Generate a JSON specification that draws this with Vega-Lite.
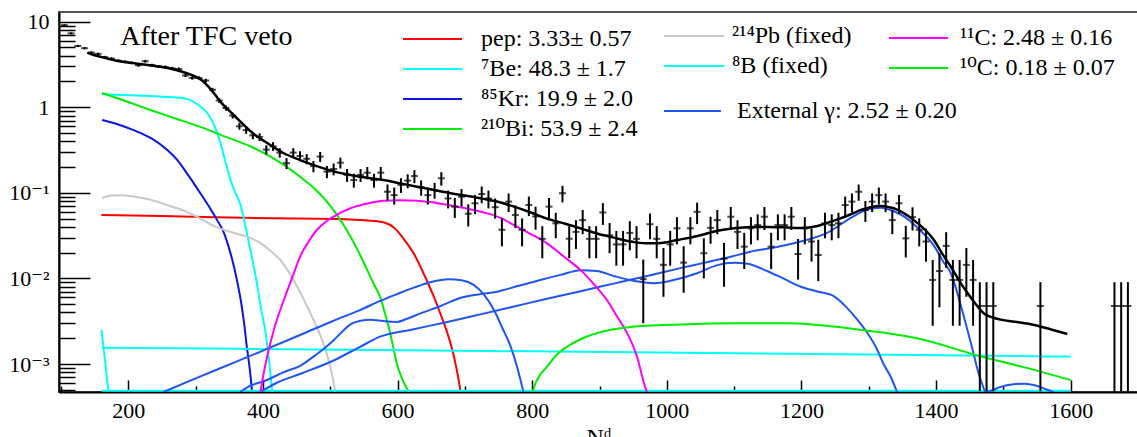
{
"$schema": "https://vega.github.io/schema/vega-lite/v6.json",
"width": 1079, "height": 380,
"autosize": "none",
"padding": {"left": 59, "top": 12, "right": 0, "bottom": 45},
"background": "white",
"config": {"view": {"stroke": "#555", "strokeWidth": 2}},
"resolve": {"scale": {"color": "independent"}},
"datasets": {
"pts": [
{"x":105,"y":9.1,"e":0.208},{"x":115,"y":7.3,"e":0.186},{"x":125,"y":5.2,"e":0.157},{"x":135,"y":4.9,"e":0.153},{"x":145,"y":4.35,"e":0.144},{"x":155,"y":4.2,"e":0.141},{"x":165,"y":3.85,"e":0.135},{"x":175,"y":3.7,"e":0.133},{"x":185,"y":3.5,"e":0.129},{"x":195,"y":3.4,"e":0.127},{"x":205,"y":3.3,"e":0.125},{"x":215,"y":3.1,"e":0.121},{"x":225,"y":3.45,"e":0.128},{"x":235,"y":3.1,"e":0.121},{"x":245,"y":3.0,"e":0.12},{"x":255,"y":2.95,"e":0.119},{"x":265,"y":2.85,"e":0.116},{"x":275,"y":2.8,"e":0.115},{"x":285,"y":2.35,"e":0.106},{"x":295,"y":2.2,"e":0.102},{"x":305,"y":2.2,"e":0.102},{"x":315,"y":2.05,"e":0.099},{"x":325,"y":1.6,"e":0.087},{"x":335,"y":1.2,"e":0.076},{"x":345,"y":0.98,"e":0.068},{"x":355,"y":0.8,"e":0.062},{"x":365,"y":0.6,"e":0.053},{"x":375,"y":0.54,"e":0.051},{"x":385,"y":0.47,"e":0.047},{"x":395,"y":0.45,"e":0.046},
{"x":405,"y":0.32,"e":0.039},{"x":415,"y":0.35,"e":0.041},{"x":425,"y":0.295,"e":0.037},{"x":435,"y":0.222,"e":0.0325},{"x":445,"y":0.295,"e":0.037},{"x":455,"y":0.27,"e":0.036},{"x":465,"y":0.25,"e":0.0345},{"x":475,"y":0.205,"e":0.031},{"x":485,"y":0.265,"e":0.0355},{"x":495,"y":0.177,"e":0.029},{"x":505,"y":0.19,"e":0.03},{"x":515,"y":0.225,"e":0.0327},{"x":525,"y":0.162,"e":0.0278},{"x":535,"y":0.141,"e":0.0259},{"x":545,"y":0.162,"e":0.0278},{"x":555,"y":0.172,"e":0.0286},{"x":565,"y":0.141,"e":0.0259},{"x":575,"y":0.172,"e":0.0286},{"x":585,"y":0.103,"e":0.0221},{"x":595,"y":0.094,"e":0.0212},{"x":605,"y":0.124,"e":0.0243},{"x":615,"y":0.139,"e":0.0257},{"x":625,"y":0.157,"e":0.0273},{"x":635,"y":0.116,"e":0.0235},{"x":645,"y":0.094,"e":0.0212},{"x":655,"y":0.108,"e":0.0227},{"x":665,"y":0.148,"e":0.0265},{"x":675,"y":0.086,"e":0.0202},{"x":685,"y":0.069,"e":0.0181},{"x":695,"y":0.09,"e":0.0207},{"x":705,"y":0.057,"e":0.0165},{"x":715,"y":0.0755,"e":0.019},{"x":725,"y":0.097,"e":0.0215},{"x":735,"y":0.086,"e":0.0202},{"x":745,"y":0.068,"e":0.018},{"x":755,"y":0.037,"e":0.0133},{"x":765,"y":0.079,"e":0.0194},{"x":775,"y":0.055,"e":0.0162},{"x":785,"y":0.037,"e":0.0133},{"x":795,"y":0.072,"e":0.0185},
{"x":805,"y":0.053,"e":0.0159},{"x":815,"y":0.029,"e":0.0118},{"x":825,"y":0.069,"e":0.0181},{"x":835,"y":0.044,"e":0.0145},{"x":845,"y":0.099,"e":0.0217},{"x":855,"y":0.029,"e":0.0118},{"x":865,"y":0.035,"e":0.0129},{"x":875,"y":0.048,"e":0.0151},{"x":885,"y":0.029,"e":0.0118},{"x":895,"y":0.029,"e":0.0118},{"x":905,"y":0.059,"e":0.0168},{"x":915,"y":0.032,"e":0.0123},{"x":925,"y":0.025,"e":0.0109},{"x":935,"y":0.025,"e":0.0109},{"x":945,"y":0.034,"e":0.0127},{"x":955,"y":0.029,"e":0.0118},{"x":965,"y":0.0098,"e":0.0068},{"x":975,"y":0.043,"e":0.0143},{"x":985,"y":0.029,"e":0.0118},{"x":995,"y":0.0144,"e":0.0083},{"x":1005,"y":0.025,"e":0.0109},{"x":1015,"y":0.0385,"e":0.0135},{"x":1025,"y":0.0153,"e":0.0085},{"x":1035,"y":0.0385,"e":0.0135},{"x":1045,"y":0.06,"e":0.0169},{"x":1055,"y":0.0197,"e":0.0097},{"x":1065,"y":0.039,"e":0.0136},{"x":1075,"y":0.048,"e":0.0151},{"x":1085,"y":0.017,"e":0.009},{"x":1095,"y":0.0526,"e":0.0158},
{"x":1105,"y":0.035,"e":0.0129},{"x":1115,"y":0.0235,"e":0.0106},{"x":1125,"y":0.0385,"e":0.0135},{"x":1135,"y":0.042,"e":0.0141},{"x":1145,"y":0.0526,"e":0.0158},{"x":1155,"y":0.0235,"e":0.0106},{"x":1165,"y":0.042,"e":0.0141},{"x":1175,"y":0.042,"e":0.0141},{"x":1185,"y":0.0526,"e":0.0158},{"x":1195,"y":0.0193,"e":0.0096},{"x":1205,"y":0.0385,"e":0.0135},{"x":1215,"y":0.027,"e":0.0113},{"x":1225,"y":0.0188,"e":0.0095},{"x":1235,"y":0.044,"e":0.0145},{"x":1245,"y":0.042,"e":0.0141},{"x":1255,"y":0.044,"e":0.0145},{"x":1265,"y":0.072,"e":0.0185},{"x":1275,"y":0.079,"e":0.0194},{"x":1285,"y":0.103,"e":0.0221},{"x":1295,"y":0.063,"e":0.0173},{"x":1305,"y":0.079,"e":0.0194},{"x":1315,"y":0.094,"e":0.0212},{"x":1325,"y":0.079,"e":0.0194},{"x":1335,"y":0.048,"e":0.0151},{"x":1345,"y":0.0755,"e":0.019},{"x":1355,"y":0.0294,"e":0.0118},{"x":1365,"y":0.052,"e":0.0157},{"x":1375,"y":0.037,"e":0.0133},{"x":1385,"y":0.027,"e":0.0113},{"x":1395,"y":0.0096,"e":0.0068},
{"x":1405,"y":0.0122,"e":0.0076},{"x":1415,"y":0.024,"e":0.0107},{"x":1425,"y":0.0096,"e":0.0068},{"x":1435,"y":0.0096,"e":0.0068},{"x":1445,"y":0.0144,"e":0.0083},{"x":1455,"y":0.0096,"e":0.0068},{"x":1465,"y":0.00476,"e":0.00428},{"x":1475,"y":0.00476,"e":0.00428},{"x":1485,"y":0.00476,"e":0.00428},{"x":1555,"y":0.00476,"e":0.00428},{"x":1665,"y":0.00476,"e":0.00428},{"x":1675,"y":0.00476,"e":0.00428},{"x":1685,"y":0.00476,"e":0.00428}
]
},
"layer": [
{
"data": {"values": [
{"c":"pep","x":160,"y":0.0552},{"c":"pep","x":250,"y":0.0535},{"c":"pep","x":330,"y":0.0518},{"c":"pep","x":420,"y":0.0505},{"c":"pep","x":505,"y":0.0495},{"c":"pep","x":555,"y":0.0475},{"c":"pep","x":580,"y":0.045},{"c":"pep","x":595,"y":0.039},{"c":"pep","x":609,"y":0.029},{"c":"pep","x":624,"y":0.0195},{"c":"pep","x":634,"y":0.0137},{"c":"pep","x":644,"y":0.0092},{"c":"pep","x":654,"y":0.0061},{"c":"pep","x":664,"y":0.0038},{"c":"pep","x":674,"y":0.0023},{"c":"pep","x":684,"y":0.0012},{"c":"pep","x":690,"y":0.0007},{"c":"pep","x":694,"y":0.00045},
{"c":"Be7","x":161,"y":1.42},{"c":"Be7","x":215,"y":1.37},{"c":"Be7","x":250,"y":1.33},{"c":"Be7","x":280,"y":1.28},{"c":"Be7","x":295,"y":1.18},{"c":"Be7","x":307,"y":1.02},{"c":"Be7","x":315,"y":0.9},{"c":"Be7","x":322,"y":0.75},{"c":"Be7","x":329,"y":0.58},{"c":"Be7","x":337,"y":0.38},{"c":"Be7","x":345,"y":0.22},{"c":"Be7","x":352,"y":0.14},{"c":"Be7","x":359,"y":0.1},{"c":"Be7","x":366,"y":0.075},{"c":"Be7","x":376,"y":0.034},{"c":"Be7","x":384,"y":0.017},{"c":"Be7","x":391,"y":0.0088},{"c":"Be7","x":397,"y":0.0045},{"c":"Be7","x":404,"y":0.0023},{"c":"Be7","x":409,"y":0.0011},{"c":"Be7","x":414,"y":0.00045},
{"c":"Kr85","x":161,"y":0.71},{"c":"Kr85","x":185,"y":0.63},{"c":"Kr85","x":208,"y":0.54},{"c":"Kr85","x":235,"y":0.43},{"c":"Kr85","x":258,"y":0.316},{"c":"Kr85","x":275,"y":0.23},{"c":"Kr85","x":287,"y":0.169},{"c":"Kr85","x":297,"y":0.13},{"c":"Kr85","x":307,"y":0.099},{"c":"Kr85","x":322,"y":0.065},{"c":"Kr85","x":332,"y":0.048},{"c":"Kr85","x":342,"y":0.034},{"c":"Kr85","x":350,"y":0.022},{"c":"Kr85","x":357,"y":0.0137},{"c":"Kr85","x":362,"y":0.009},{"c":"Kr85","x":367,"y":0.0056},{"c":"Kr85","x":372,"y":0.003},{"c":"Kr85","x":376,"y":0.0016},{"c":"Kr85","x":381,"y":0.0008},{"c":"Kr85","x":384,"y":0.00045},
{"c":"Bi210","x":161,"y":1.47},{"c":"Bi210","x":200,"y":1.15},{"c":"Bi210","x":233,"y":0.93},{"c":"Bi210","x":270,"y":0.74},{"c":"Bi210","x":307,"y":0.59},{"c":"Bi210","x":345,"y":0.45},{"c":"Bi210","x":381,"y":0.35},{"c":"Bi210","x":406,"y":0.28},{"c":"Bi210","x":431,"y":0.212},{"c":"Bi210","x":456,"y":0.152},{"c":"Bi210","x":480,"y":0.106},{"c":"Bi210","x":495,"y":0.079},{"c":"Bi210","x":510,"y":0.055},{"c":"Bi210","x":525,"y":0.036},{"c":"Bi210","x":540,"y":0.022},{"c":"Bi210","x":555,"y":0.0125},{"c":"Bi210","x":565,"y":0.0085},{"c":"Bi210","x":575,"y":0.0058},{"c":"Bi210","x":582,"y":0.0037},{"c":"Bi210","x":589,"y":0.0023},{"c":"Bi210","x":594,"y":0.0015},{"c":"Bi210","x":599,"y":0.001},{"c":"Bi210","x":606,"y":0.0007},{"c":"Bi210","x":612,"y":0.00055},{"c":"Bi210","x":619,"y":0.00045}
]},
"mark": {"type": "line", "clip": true, "strokeWidth": 2, "interpolate": "monotone"},
"encoding": {
"x": {"field": "x", "type": "quantitative",
 "scale": {"domain": [97, 1700], "nice": false, "zero": false},
 "axis": {"values": [100,150,200,250,300,350,400,450,500,550,600,650,700,750,800,850,900,950,1000,1050,1100,1150,1200,1250,1300,1350,1400,1450,1500,1550,1600,1650,1700],
  "format": "d", "labelExpr": "datum.value % 200 === 0 ? datum.label : ''",
  "tickSize": {"condition": {"test": "datum.value % 200 === 0", "value": -12}, "value": -6},
  "tickColor": "black", "tickWidth": 1.5, "domainColor": "black", "domainWidth": 2,
  "labelFont": "Liberation Serif", "labelFontSize": 22, "labelColor": "black", "labelPadding": 20,
  "labelOverlap": false, "labelFlush": false, "grid": false,
  "title": "Nᵈ", "titleFont": "Liberation Serif, DejaVu Serif", "titleFontSize": 24, "titleFontWeight": "normal", "titleColor": "black", "titleY": 33, "titleBaseline": "top"}},
"y": {"field": "y", "type": "quantitative",
 "scale": {"type": "log", "domain": [0.000471, 12.97], "nice": false},
 "axis": {"values": [0.0005,0.0006,0.0007,0.0008,0.0009,0.001,0.002,0.003,0.004,0.005,0.006,0.007,0.008,0.009,0.01,0.02,0.03,0.04,0.05,0.06,0.07,0.08,0.09,0.1,0.2,0.3,0.4,0.5,0.6,0.7,0.8,0.9,1,2,3,4,5,6,7,8,9,10],
  "labelExpr": "datum.value == 10 ? '10' : datum.value == 1 ? '1' : datum.value == 0.1 ? '10⁻¹' : datum.value == 0.01 ? '10⁻²' : datum.value == 0.001 ? '10⁻³' : ''",
  "tickSize": {"condition": {"test": "datum.value == 10 || datum.value == 1 || datum.value == 0.1 || datum.value == 0.01 || datum.value == 0.001", "value": -31}, "value": -16},
  "tickColor": "black", "tickWidth": 1.5, "domainColor": "black", "domainWidth": 2,
  "labelFont": "Liberation Serif, DejaVu Serif", "labelFontSize": 22, "labelColor": "black", "labelPadding": 41,
  "labelOverlap": false, "labelFlush": false, "grid": false, "title": null}},
"color": {"field": "c", "type": "nominal",
 "scale": {"domain": ["pep","Be7","Kr85","Bi210"], "range": ["#ff0000","#00ffff","#0a14e6","#00ee00"]},
 "legend": {"orient": "none", "legendX": 343, "legendY": 9.5, "title": null, "padding": 0,
  "symbolType": "M-1,0H2.58", "symbolSize": 1089, "symbolStrokeWidth": 2,
  "labelFont": "Liberation Serif, DejaVu Serif", "labelFontSize": 24, "labelColor": "black", "labelOffset": 44, "labelLimit": 500, "rowPadding": 0,
  "labelExpr": "datum.label == 'pep' ? 'pep: 3.33± 0.57' : datum.label == 'Be7' ? '⁷Be: 48.3 ±  1.7' : datum.label == 'Kr85' ? '⁸⁵Kr: 19.9 ±  2.0' : '²¹⁰Bi: 53.9 ±  2.4'"}}
}
},
{
"data": {"values": [
{"c":"Pb214","s":1,"x":161,"y":0.087},{"c":"Pb214","s":1,"x":175,"y":0.093},{"c":"Pb214","s":1,"x":190,"y":0.094},{"c":"Pb214","s":1,"x":210,"y":0.09},{"c":"Pb214","s":1,"x":233,"y":0.083},{"c":"Pb214","s":1,"x":260,"y":0.071},{"c":"Pb214","s":1,"x":287,"y":0.06},{"c":"Pb214","s":1,"x":307,"y":0.05},{"c":"Pb214","s":1,"x":330,"y":0.04},{"c":"Pb214","s":1,"x":357,"y":0.034},{"c":"Pb214","s":1,"x":380,"y":0.03},{"c":"Pb214","s":1,"x":396,"y":0.026},{"c":"Pb214","s":1,"x":411,"y":0.021},{"c":"Pb214","s":1,"x":426,"y":0.0164},{"c":"Pb214","s":1,"x":441,"y":0.011},{"c":"Pb214","s":1,"x":456,"y":0.0067},{"c":"Pb214","s":1,"x":468,"y":0.0043},{"c":"Pb214","s":1,"x":480,"y":0.0027},{"c":"Pb214","s":1,"x":488,"y":0.0019},{"c":"Pb214","s":1,"x":495,"y":0.0013},{"c":"Pb214","s":1,"x":502,"y":0.0008},{"c":"Pb214","s":1,"x":508,"y":0.00045},
{"c":"B8","s":2,"x":161,"y":0.00155},{"c":"B8","s":2,"x":575,"y":0.00146},{"c":"B8","s":2,"x":1139,"y":0.00133},{"c":"B8","s":2,"x":1600,"y":0.00122},
{"c":"B8","s":3,"x":160,"y":0.0025},{"c":"B8","s":3,"x":163,"y":0.0016},{"c":"B8","s":3,"x":166,"y":0.001},{"c":"B8","s":3,"x":169,"y":0.0006},{"c":"B8","s":3,"x":171,"y":0.000487},{"c":"B8","s":3,"x":1600,"y":0.000487},
{"c":"B8","s":4,"x":160,"y":0.000487},{"c":"B8","s":4,"x":171,"y":0.000487}
]},
"mark": {"type": "line", "clip": true, "strokeWidth": 2, "interpolate": "monotone"},
"encoding": {
"x": {"field": "x", "type": "quantitative"},
"y": {"field": "y", "type": "quantitative"},
"detail": {"field": "s"},
"color": {"field": "c", "type": "nominal",
 "scale": {"domain": ["Pb214","B8"], "range": ["#c8c8c8","#00ffff"]},
 "legend": {"orient": "none", "legendX": 604, "legendY": 6.5, "title": null, "padding": 0,
  "symbolType": "M-1,0H2.64", "symbolSize": 1089, "symbolStrokeWidth": 2,
  "labelFont": "Liberation Serif, DejaVu Serif", "labelFontSize": 24, "labelColor": "black", "labelOffset": 34, "labelLimit": 500, "rowPadding": 0,
  "labelExpr": "datum.label == 'Pb214' ? '²¹⁴Pb (fixed)' : '⁸B (fixed)'"}}
}
},
{
"data": {"values": [
{"c":"ext","s":"A","x":252,"y":0.00047},{"c":"ext","s":"A","x":300,"y":0.00068},{"c":"ext","s":"A","x":357,"y":0.00104},{"c":"ext","s":"A","x":406,"y":0.0015},{"c":"ext","s":"A","x":456,"y":0.0022},{"c":"ext","s":"A","x":505,"y":0.0032},{"c":"ext","s":"A","x":545,"y":0.0043},{"c":"ext","s":"A","x":575,"y":0.0055},{"c":"ext","s":"A","x":600,"y":0.0066},{"c":"ext","s":"A","x":624,"y":0.0078},{"c":"ext","s":"A","x":650,"y":0.0091},{"c":"ext","s":"A","x":676,"y":0.0098},{"c":"ext","s":"A","x":695,"y":0.0095},{"c":"ext","s":"A","x":713,"y":0.0084},{"c":"ext","s":"A","x":728,"y":0.0065},{"c":"ext","s":"A","x":743,"y":0.0043},{"c":"ext","s":"A","x":756,"y":0.0026},{"c":"ext","s":"A","x":768,"y":0.0016},{"c":"ext","s":"A","x":778,"y":0.0009},{"c":"ext","s":"A","x":787,"y":0.00047},
{"c":"ext","s":"B","x":366,"y":0.00047},{"c":"ext","s":"B","x":380,"y":0.00055},{"c":"ext","s":"B","x":406,"y":0.00065},{"c":"ext","s":"B","x":430,"y":0.0008},{"c":"ext","s":"B","x":456,"y":0.00096},{"c":"ext","s":"B","x":475,"y":0.00122},{"c":"ext","s":"B","x":490,"y":0.0015},{"c":"ext","s":"B","x":505,"y":0.0019},{"c":"ext","s":"B","x":518,"y":0.0024},{"c":"ext","s":"B","x":530,"y":0.0029},{"c":"ext","s":"B","x":545,"y":0.0032},{"c":"ext","s":"B","x":560,"y":0.0033},{"c":"ext","s":"B","x":575,"y":0.0032},{"c":"ext","s":"B","x":599,"y":0.0031},{"c":"ext","s":"B","x":615,"y":0.0034},{"c":"ext","s":"B","x":634,"y":0.0039},{"c":"ext","s":"B","x":665,"y":0.0048},{"c":"ext","s":"B","x":693,"y":0.0059},{"c":"ext","s":"B","x":720,"y":0.0065},{"c":"ext","s":"B","x":748,"y":0.007},{"c":"ext","s":"B","x":780,"y":0.0082},{"c":"ext","s":"B","x":812,"y":0.0096},{"c":"ext","s":"B","x":842,"y":0.011},{"c":"ext","s":"B","x":872,"y":0.0125},{"c":"ext","s":"B","x":896,"y":0.0122},{"c":"ext","s":"B","x":921,"y":0.0107},{"c":"ext","s":"B","x":950,"y":0.0094},{"c":"ext","s":"B","x":981,"y":0.0088},{"c":"ext","s":"B","x":1015,"y":0.0098},{"c":"ext","s":"B","x":1045,"y":0.0115},{"c":"ext","s":"B","x":1075,"y":0.0143},{"c":"ext","s":"B","x":1100,"y":0.0152},{"c":"ext","s":"B","x":1120,"y":0.0148},{"c":"ext","s":"B","x":1149,"y":0.0122},{"c":"ext","s":"B","x":1175,"y":0.0098},{"c":"ext","s":"B","x":1199,"y":0.008},{"c":"ext","s":"B","x":1225,"y":0.007},{"c":"ext","s":"B","x":1248,"y":0.0062},{"c":"ext","s":"B","x":1268,"y":0.0045},{"c":"ext","s":"B","x":1283,"y":0.0033},{"c":"ext","s":"B","x":1298,"y":0.0023},{"c":"ext","s":"B","x":1312,"y":0.0015},{"c":"ext","s":"B","x":1322,"y":0.001},{"c":"ext","s":"B","x":1333,"y":0.0007},{"c":"ext","s":"B","x":1342,"y":0.00047},
{"c":"ext","s":"C","x":396,"y":0.00047},{"c":"ext","s":"C","x":420,"y":0.0006},{"c":"ext","s":"C","x":456,"y":0.00077},{"c":"ext","s":"C","x":505,"y":0.0011},{"c":"ext","s":"C","x":545,"y":0.0016},{"c":"ext","s":"C","x":575,"y":0.0021},{"c":"ext","s":"C","x":624,"y":0.00255},{"c":"ext","s":"C","x":674,"y":0.0031},{"c":"ext","s":"C","x":723,"y":0.0038},{"c":"ext","s":"C","x":773,"y":0.0047},{"c":"ext","s":"C","x":822,"y":0.0058},{"c":"ext","s":"C","x":872,"y":0.0071},{"c":"ext","s":"C","x":921,"y":0.0087},{"c":"ext","s":"C","x":971,"y":0.0107},{"c":"ext","s":"C","x":1020,"y":0.0132},{"c":"ext","s":"C","x":1050,"y":0.0149},{"c":"ext","s":"C","x":1095,"y":0.0179},{"c":"ext","s":"C","x":1124,"y":0.0205},{"c":"ext","s":"C","x":1160,"y":0.023},{"c":"ext","s":"C","x":1199,"y":0.027},{"c":"ext","s":"C","x":1238,"y":0.034},{"c":"ext","s":"C","x":1268,"y":0.048},{"c":"ext","s":"C","x":1288,"y":0.059},{"c":"ext","s":"C","x":1298,"y":0.064},{"c":"ext","s":"C","x":1318,"y":0.067},{"c":"ext","s":"C","x":1337,"y":0.061},{"c":"ext","s":"C","x":1352,"y":0.053},{"c":"ext","s":"C","x":1367,"y":0.043},{"c":"ext","s":"C","x":1382,"y":0.033},{"c":"ext","s":"C","x":1397,"y":0.024},{"c":"ext","s":"C","x":1410,"y":0.016},{"c":"ext","s":"C","x":1422,"y":0.0115},{"c":"ext","s":"C","x":1434,"y":0.0058},{"c":"ext","s":"C","x":1446,"y":0.0026},{"c":"ext","s":"C","x":1454,"y":0.0015},{"c":"ext","s":"C","x":1461,"y":0.0009},{"c":"ext","s":"C","x":1468,"y":0.0006},{"c":"ext","s":"C","x":1474,"y":0.00047},{"c":"ext","s":"C","x":1485,"y":0.0005},{"c":"ext","s":"C","x":1496,"y":0.00054},{"c":"ext","s":"C","x":1515,"y":0.00058},{"c":"ext","s":"C","x":1531,"y":0.00059},{"c":"ext","s":"C","x":1548,"y":0.00056},{"c":"ext","s":"C","x":1560,"y":0.00052},{"c":"ext","s":"C","x":1575,"y":0.00047}
]},
"mark": {"type": "line", "clip": true, "strokeWidth": 2, "interpolate": "monotone"},
"encoding": {
"x": {"field": "x", "type": "quantitative"},
"y": {"field": "y", "type": "quantitative"},
"detail": {"field": "s"},
"color": {"field": "c", "type": "nominal",
 "scale": {"domain": ["ext"], "range": ["#1f55f5"]},
 "legend": {"orient": "none", "legendX": 604, "legendY": 81.5, "title": null, "padding": 0,
  "symbolType": "M-1,0H2.45", "symbolSize": 1089, "symbolStrokeWidth": 2,
  "labelFont": "Liberation Serif, DejaVu Serif", "labelFontSize": 24, "labelColor": "black", "labelOffset": 39, "labelLimit": 500,
  "labelExpr": "'External γ: 2.52 ± 0.20'"}}
}
},
{
"data": {"values": [
{"c":"C11","x":396,"y":0.00045},{"c":"C11","x":400,"y":0.0007},{"c":"C11","x":406,"y":0.0012},{"c":"C11","x":418,"y":0.0028},{"c":"C11","x":431,"y":0.0056},{"c":"C11","x":443,"y":0.01},{"c":"C11","x":456,"y":0.0186},{"c":"C11","x":468,"y":0.027},{"c":"C11","x":480,"y":0.0368},{"c":"C11","x":492,"y":0.045},{"c":"C11","x":505,"y":0.0528},{"c":"C11","x":530,"y":0.066},{"c":"C11","x":555,"y":0.075},{"c":"C11","x":579,"y":0.081},{"c":"C11","x":604,"y":0.082},{"c":"C11","x":629,"y":0.081},{"c":"C11","x":654,"y":0.077},{"c":"C11","x":679,"y":0.071},{"c":"C11","x":704,"y":0.065},{"c":"C11","x":728,"y":0.059},{"c":"C11","x":753,"y":0.051},{"c":"C11","x":773,"y":0.042},{"c":"C11","x":798,"y":0.033},{"c":"C11","x":822,"y":0.0257},{"c":"C11","x":847,"y":0.018},{"c":"C11","x":872,"y":0.0125},{"c":"C11","x":892,"y":0.0085},{"c":"C11","x":911,"y":0.0056},{"c":"C11","x":926,"y":0.0036},{"c":"C11","x":941,"y":0.0023},{"c":"C11","x":956,"y":0.0012},{"c":"C11","x":966,"y":0.0006},{"c":"C11","x":971,"y":0.00045},
{"c":"C10","x":800,"y":0.00045},{"c":"C10","x":805,"y":0.0006},{"c":"C10","x":812,"y":0.00075},{"c":"C10","x":822,"y":0.00093},{"c":"C10","x":835,"y":0.00125},{"c":"C10","x":852,"y":0.0016},{"c":"C10","x":875,"y":0.002},{"c":"C10","x":897,"y":0.0023},{"c":"C10","x":946,"y":0.0027},{"c":"C10","x":1020,"y":0.0029},{"c":"C10","x":1100,"y":0.003},{"c":"C10","x":1180,"y":0.003},{"c":"C10","x":1273,"y":0.0026},{"c":"C10","x":1372,"y":0.002},{"c":"C10","x":1471,"y":0.0012},{"c":"C10","x":1530,"y":0.00092},{"c":"C10","x":1600,"y":0.00065}
]},
"mark": {"type": "line", "clip": true, "strokeWidth": 2, "interpolate": "monotone"},
"encoding": {
"x": {"field": "x", "type": "quantitative"},
"y": {"field": "y", "type": "quantitative"},
"color": {"field": "c", "type": "nominal",
 "scale": {"domain": ["C11","C10"], "range": ["#ff00ff","#00ee00"]},
 "legend": {"orient": "none", "legendX": 829, "legendY": 8.5, "title": null, "padding": 0,
  "symbolType": "M-1,0H2.58", "symbolSize": 1089, "symbolStrokeWidth": 2,
  "labelFont": "Liberation Serif, DejaVu Serif", "labelFontSize": 24, "labelColor": "black", "labelOffset": 37, "labelLimit": 500, "rowPadding": 0,
  "labelExpr": "datum.label == 'C11' ? '¹¹C: 2.48 ±  0.16' : '¹⁰C: 0.18 ± 0.07'"}}
}
},
{
"data": {"values": [
{"x":139,"y":4.35},{"x":150,"y":4.05},{"x":161,"y":3.85},{"x":175,"y":3.6},{"x":191,"y":3.4},{"x":205,"y":3.3},{"x":220,"y":3.18},{"x":235,"y":3.07},{"x":250,"y":2.95},{"x":265,"y":2.8},{"x":280,"y":2.6},{"x":290,"y":2.45},{"x":300,"y":2.28},{"x":310,"y":2.04},{"x":319,"y":1.74},{"x":329,"y":1.4},{"x":339,"y":1.11},{"x":354,"y":0.85},{"x":369,"y":0.65},{"x":389,"y":0.47},{"x":408,"y":0.375},{"x":431,"y":0.29},{"x":456,"y":0.24},{"x":480,"y":0.205},{"x":505,"y":0.178},{"x":530,"y":0.162},{"x":555,"y":0.15},{"x":579,"y":0.141},{"x":604,"y":0.129},{"x":629,"y":0.118},{"x":654,"y":0.108},{"x":679,"y":0.099},{"x":704,"y":0.092},{"x":728,"y":0.085},{"x":753,"y":0.077},{"x":773,"y":0.069},{"x":798,"y":0.059},{"x":822,"y":0.05},{"x":847,"y":0.044},{"x":872,"y":0.0385},{"x":896,"y":0.0335},{"x":921,"y":0.03},{"x":940,"y":0.0275},{"x":956,"y":0.0262},{"x":970,"y":0.0257},{"x":986,"y":0.0257},{"x":1000,"y":0.0265},{"x":1010,"y":0.0276},{"x":1025,"y":0.029},{"x":1050,"y":0.032},{"x":1075,"y":0.036},{"x":1100,"y":0.0385},{"x":1125,"y":0.0398},{"x":1150,"y":0.04},{"x":1175,"y":0.0395},{"x":1199,"y":0.0388},{"x":1224,"y":0.041},{"x":1240,"y":0.045},{"x":1258,"y":0.0504},{"x":1275,"y":0.057},{"x":1288,"y":0.063},{"x":1303,"y":0.068},{"x":1318,"y":0.07},{"x":1330,"y":0.068},{"x":1337,"y":0.066},{"x":1352,"y":0.058},{"x":1367,"y":0.048},{"x":1382,"y":0.038},{"x":1397,"y":0.028},{"x":1410,"y":0.019},{"x":1422,"y":0.0137},{"x":1434,"y":0.0095},{"x":1447,"y":0.0067},{"x":1459,"y":0.005},{"x":1471,"y":0.0039},{"x":1484,"y":0.0035},{"x":1496,"y":0.0033},{"x":1520,"y":0.0031},{"x":1546,"y":0.00286},{"x":1570,"y":0.00255},{"x":1595,"y":0.00224}
]},
"mark": {"type": "line", "clip": true, "strokeWidth": 2.5, "color": "black", "interpolate": "monotone"},
"encoding": {"x": {"field": "x", "type": "quantitative"}, "y": {"field": "y", "type": "quantitative"}}
},
{
"data": {"name": "pts"},
"mark": {"type": "errorbar", "ticks": false, "rule": {"strokeWidth": 2, "color": "black"}},
"encoding": {"x": {"field": "x", "type": "quantitative"}, "y": {"field": "y", "type": "quantitative"}, "yError": {"field": "e"}}
},
{
"data": {"name": "pts"},
"mark": {"type": "tick", "orient": "horizontal", "size": 7, "thickness": 2, "color": "black", "clip": true},
"encoding": {"x": {"field": "x", "type": "quantitative"}, "y": {"field": "y", "type": "quantitative"}}
},
{
"data": {"values": [{"t": "After TFC veto"}]},
"mark": {"type": "text", "align": "left", "baseline": "alphabetic", "font": "Liberation Serif", "fontSize": 28, "color": "black"},
"encoding": {"x": {"datum": 188, "type": "quantitative"}, "y": {"datum": 5.34, "type": "quantitative"}, "text": {"field": "t"}}
}
]
}
